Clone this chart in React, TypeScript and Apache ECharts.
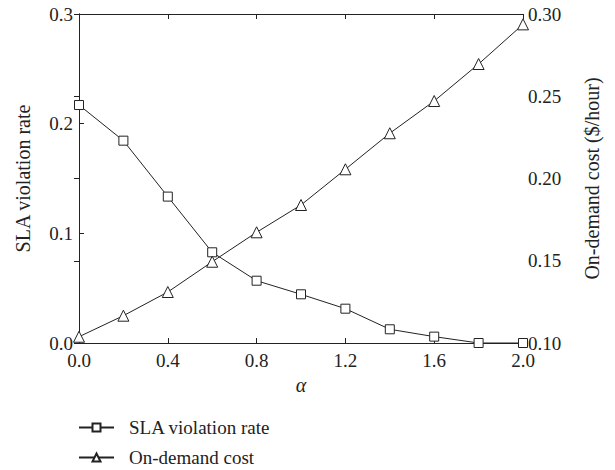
import React, { useEffect, useRef } from "react";
import * as echarts from "echarts";

const alphaValues = [0.0, 0.2, 0.4, 0.6, 0.8, 1.0, 1.2, 1.4, 1.6, 1.8, 2.0];
const slaViolationRate = [0.217, 0.1845, 0.1335, 0.0827, 0.0568, 0.0444, 0.0313, 0.0125, 0.0058, 0.0, 0.0];
const onDemandCost = [0.1038, 0.1166, 0.131, 0.1494, 0.1673, 0.1839, 0.2056, 0.2275, 0.2471, 0.2696, 0.2937];

const FONT = "'Liberation Serif', 'Times New Roman', serif";

export default function App() {
  const ref = useRef<HTMLDivElement>(null);
  useEffect(() => {
    const chart = echarts.init(ref.current!, null, { renderer: "svg" });
    const textStyle = { fontFamily: FONT, fontSize: 19, color: "#222" };
    const legendBase = {
      orient: "horizontal",
      left: 78,
      padding: 0,
      itemWidth: 35,
      itemHeight: 10,
      textStyle: { ...textStyle, padding: [0, 0, 0, 10] },
    };
    chart.setOption({
      animation: false,
      backgroundColor: "#fff",
      textStyle,
      grid: { left: 79, right: 92, top: 14, bottom: 127, containLabel: false },
      legend: [
        { ...legendBase, top: 418, data: ["SLA violation rate"] },
        { ...legendBase, top: 448, data: ["On-demand cost"] },
      ],
      xAxis: [
        {
          type: "value",
          min: 0,
          max: 2,
          interval: 0.4,
          position: "bottom",
          name: "α",
          nameLocation: "middle",
          nameGap: 31,
          nameTextStyle: { ...textStyle, fontStyle: "italic", fontSize: 20 },
          axisLine: { lineStyle: { color: "#222", width: 1 } },
          axisTick: { inside: true, length: 5, lineStyle: { color: "#222" } },
          axisLabel: { ...textStyle, margin: 8, formatter: (v: number) => v.toFixed(1) },
          splitLine: { show: false },
        },
        {
          type: "value",
          min: 0,
          max: 2,
          interval: 0.4,
          position: "top",
          axisLine: { lineStyle: { color: "#222", width: 1 } },
          axisTick: { inside: true, length: 5, lineStyle: { color: "#222" } },
          axisLabel: { show: false },
          splitLine: { show: false },
        },
      ],
      yAxis: [
        {
          type: "value",
          min: 0,
          max: 0.3,
          interval: 0.1,
          position: "left",
          name: "SLA violation rate",
          nameLocation: "middle",
          nameGap: 46,
          nameTextStyle: { ...textStyle, fontSize: 20 },
          axisLine: { show: true, lineStyle: { color: "#222", width: 1 } },
          axisTick: { show: true, inside: true, length: 5, lineStyle: { color: "#222" } },
          axisLabel: { ...textStyle, margin: 6, formatter: (v: number) => v.toFixed(1) },
          splitLine: { show: false },
        },
        {
          type: "value",
          min: 0.1,
          max: 0.3,
          interval: 0.05,
          position: "right",
          name: "On-demand cost ($/hour)",
          nameLocation: "middle",
          nameGap: 59,
          nameTextStyle: { ...textStyle, fontSize: 20 },
          axisLine: { show: true, lineStyle: { color: "#222", width: 1 } },
          axisTick: { show: true, inside: true, length: 5, lineStyle: { color: "#222" } },
          axisLabel: { ...textStyle, margin: 5, formatter: (v: number) => v.toFixed(2) },
          splitLine: { show: false },
        },
      ],
      series: [
        {
          name: "SLA violation rate",
          type: "line",
          xAxisIndex: 0,
          yAxisIndex: 0,
          data: alphaValues.map((a, i) => [a, slaViolationRate[i]]),
          symbol: "rect",
          symbolSize: 9,
          lineStyle: { color: "#222", width: 1 },
          itemStyle: { color: "#fff", borderColor: "#222", borderWidth: 1 },
          z: 3,
        },
        {
          name: "On-demand cost",
          type: "line",
          xAxisIndex: 0,
          yAxisIndex: 1,
          data: alphaValues.map((a, i) => [a, onDemandCost[i]]),
          symbol: "triangle",
          symbolSize: 11,
          lineStyle: { color: "#222", width: 1 },
          itemStyle: { color: "#fff", borderColor: "#222", borderWidth: 1 },
          z: 3,
        },
      ],
    });
    return () => chart.dispose();
  }, []);
  return <div ref={ref} style={{ width: 615, height: 470, position: "absolute", left: 0, top: 0 }} />;
}
